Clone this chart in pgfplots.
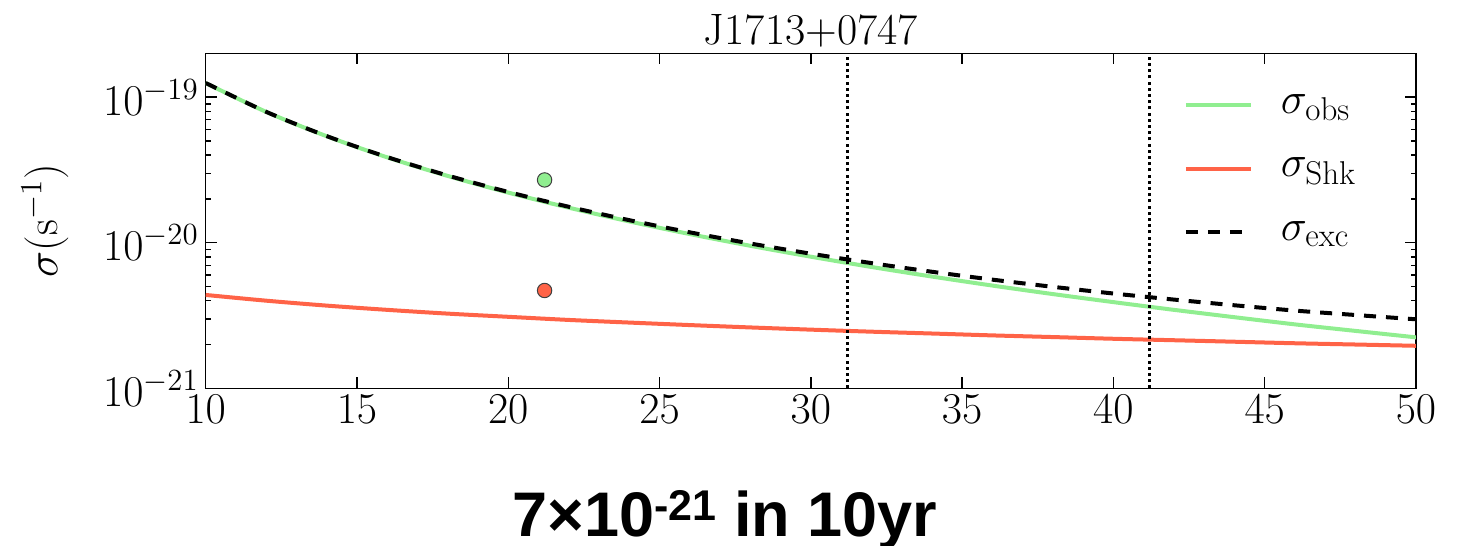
\RequirePackage{fix-cm}
\documentclass[border=0pt]{standalone}
\usepackage{fontspec}
\usepackage{pgfplots}
\pgfplotsset{compat=1.18}
\newfontfamily\arialf{Liberation Sans}
\definecolor{lgreen}{HTML}{90EE90}
\definecolor{tomato}{HTML}{FF6347}
\newcommand{\sub}[1]{\hbox{\fontsize{16.5}{18}\selectfont #1}}
\begin{document}
\begin{tikzpicture}
\begin{axis}[
  at={(0pt,0pt)}, anchor=south west,
  width=605.15pt, height=167.5pt, scale only axis,
  xmin=10, xmax=50, ymode=log, ymin=1e-21, ymax=2e-19,
  xtick={10,15,...,50},
  ytick={1e-21,1e-20,1e-19},
  font=\fontsize{22}{26}\selectfont,
  tick label style={font=\fontsize{22}{26}\selectfont},
  axis line style={line width=0.8pt},
  tick style={black, line width=0.7pt},
  major tick length=5.5pt, minor tick length=2.5pt,
  ylabel={$\sigma(\mathrm{s}^{-1})$},
  ylabel style={at={(axis description cs:-0.1328,0.5)}, anchor=center},
  legend image code/.code={\draw[#1] (0pt,0pt) -- (32.5pt,0pt);},
  legend style={at={(axis description cs:0.803,0.903)}, anchor=north west,
    draw=none, fill=none, row sep=16.8pt, column sep=12pt,
    font=\fontsize{22}{26}\selectfont},
  legend cell align=left,
]
\addplot[lgreen, line width=2pt, smooth] coordinates {
(10,1.25e-19) (12,7.92e-20) (14,5.39e-20) (16,3.86e-20) (18,2.876e-20)
(20,2.21e-20) (22,1.741e-20) (24,1.401e-20) (26,1.147e-20) (28,9.53e-21)
(30,8.02e-21) (32,6.82e-21) (34,5.86e-21) (36,5.08e-21) (38,4.44e-21)
(40,3.91e-21) (42,3.46e-21) (44,3.08e-21) (46,2.75e-21) (48,2.48e-21)
(50,2.24e-21)};
\addlegendentry{$\sigma_{\sub{obs}}$}
\addplot[tomato, line width=2pt, smooth] coordinates {
(10,4.38e-21) (12,4.00e-21) (14,3.70e-21) (16,3.46e-21) (18,3.26e-21)
(20,3.10e-21) (22,2.95e-21) (24,2.83e-21) (26,2.72e-21) (28,2.62e-21)
(30,2.53e-21) (32,2.45e-21) (34,2.38e-21) (36,2.31e-21) (38,2.25e-21)
(40,2.19e-21) (42,2.14e-21) (44,2.09e-21) (46,2.04e-21) (48,2.00e-21)
(50,1.96e-21)};
\addlegendentry{$\sigma_{\sub{Shk}}$}
\addplot[black, line width=2pt, dash pattern=on 6pt off 5pt, smooth] coordinates {
(10,1.251e-19) (12,7.93e-20) (14,5.40e-20) (16,3.875e-20) (18,2.894e-20)
(20,2.232e-20) (22,1.766e-20) (24,1.429e-20) (26,1.179e-20) (28,9.88e-21)
(30,8.41e-21) (32,7.25e-21) (34,6.32e-21) (36,5.58e-21) (38,4.98e-21)
(40,4.48e-21) (42,4.07e-21) (44,3.72e-21) (46,3.42e-21) (48,3.19e-21)
(50,2.98e-21)};
\addlegendentry{$\sigma_{\sub{exc}}$}
\addplot[forget plot, black, line width=1.5pt, dash pattern=on 1.5pt off 1.6pt] coordinates {(31.2,1e-21) (31.2,2e-19)};
\addplot[forget plot, black, line width=1.5pt, dash pattern=on 1.5pt off 1.6pt] coordinates {(41.2,1e-21) (41.2,2e-19)};
\addplot[forget plot, only marks, mark=*, mark size=3.6pt, mark options={fill=lgreen, draw=black!75, line width=0.5pt}] coordinates {(21.2,2.7e-20)};
\addplot[forget plot, only marks, mark=*, mark size=3.6pt, mark options={fill=tomato, draw=black!75, line width=0.5pt}] coordinates {(21.2,4.7e-21)};
\end{axis}
\node[anchor=base, font=\fontsize{22}{26}\selectfont, inner sep=0pt] at (302.6pt,172.1pt) {J1713+0747};
\node[anchor=base, font=\arialf\bfseries\fontsize{31.5}{36}\selectfont, inner sep=0pt] at (259.65pt,-74.2pt)
  {7×10\raisebox{8pt}{\fontsize{21.5}{24}\selectfont -21} in 10yr};
\pgfresetboundingbox
\useasboundingbox (-102.85pt,-78.85pt) rectangle (628.65pt,194.15pt);
\end{tikzpicture}
\end{document}
